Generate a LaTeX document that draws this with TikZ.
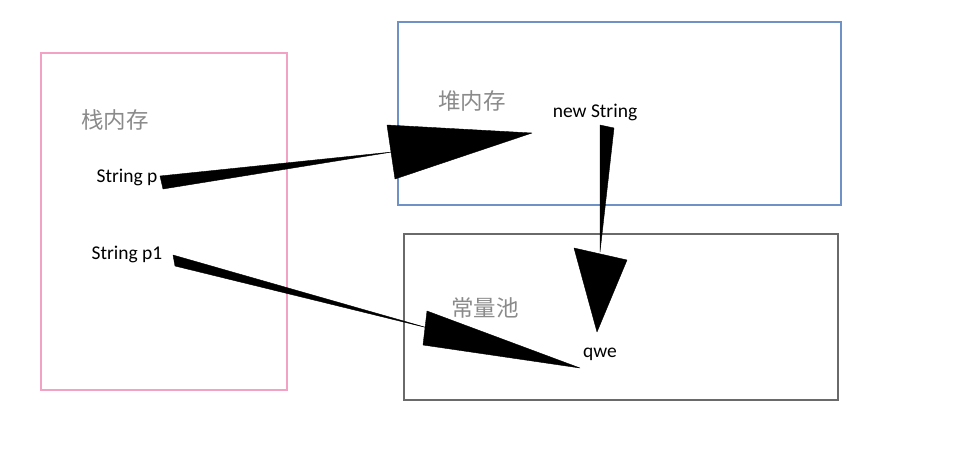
\documentclass[tikz,border=0pt]{standalone}
\usepackage{fontspec}
\usepackage{xcolor}
\usepackage{tikz}
\usetikzlibrary{positioning}

\newfontfamily\cjkfont{Noto Sans CJK SC}
\newfontfamily\latinfont{Carlito}

\definecolor{stackpink}{HTML}{F2A2C4}
\definecolor{heapblue}{HTML}{6E91C6}
\definecolor{poolgray}{HTML}{6A6A6A}
\definecolor{labelgray}{HTML}{8A8A8A}

\begin{document}
\begin{tikzpicture}[
    x=1pt, y=-1pt,
    stackbox/.style={draw=stackpink, line width=1.1pt},
    heapbox/.style={draw=heapblue, line width=1.1pt},
    poolbox/.style={draw=poolgray, line width=1.1pt},
    memlabel/.style={text=labelgray, font=\cjkfont\fontsize{22.5}{26}\selectfont, inner sep=0pt},
    varlabel/.style={text=black, font=\latinfont\fontsize{19.5}{23}\selectfont, inner sep=0pt},
    wedge/.style={fill=black, draw=black, line width=0.4pt, line join=round}
]
\useasboundingbox (0,0) rectangle (968,474);

% memory areas
\draw[stackbox] (41,53) rectangle (287,390);
\draw[heapbox] (398,22) rectangle (841,205);
\draw[poolbox] (404,234) rectangle (838,400);

% area titles
\node[memlabel] (stack) at (115,120) {栈内存};
\node[memlabel] (heap) at (472,101) {堆内存};
\node[memlabel] (pool) at (485,308) {常量池};

% variables and values
\node[varlabel] (p) at (127,177) {String p};
\node[varlabel] (p1) at (127,254) {String p1};
\node[varlabel] (newstr) at (595,112) {new String};
\node[varlabel] (qwe) at (600,354) {qwe};

% p -> new String
\coordinate (pa) at (160,176);
\coordinate (pb) at (163,189);
\coordinate (pc) at (392,152);
\coordinate (ph1) at (387,125);
\coordinate (ph2) at (395,179);
\coordinate (ph3) at (532,133);
\fill[wedge] (pa) -- (pb) -- (pc) -- cycle;
\fill[wedge] (ph1) -- (ph2) -- (ph3) -- cycle;

% p1 -> qwe
\coordinate (qa) at (173,255);
\coordinate (qb) at (175,266);
\coordinate (qc) at (428,328);
\coordinate (qh1) at (427,311);
\coordinate (qh2) at (423,345);
\coordinate (qh3) at (580,368);
\fill[wedge] (qa) -- (qb) -- (qc) -- cycle;
\fill[wedge] (qh1) -- (qh2) -- (qh3) -- cycle;

% new String -> qwe
\coordinate (ra) at (600,125);
\coordinate (rb) at (614,128);
\coordinate (rc) at (600,252);
\coordinate (rh1) at (574,248);
\coordinate (rh2) at (627,260);
\coordinate (rh3) at (597,332);
\fill[wedge] (ra) -- (rb) -- (rc) -- cycle;
\fill[wedge] (rh1) -- (rh2) -- (rh3) -- cycle;

\end{tikzpicture}
\end{document}
